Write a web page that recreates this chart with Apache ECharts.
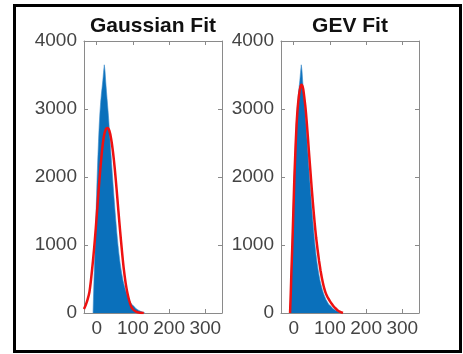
<!DOCTYPE html>
<html>
<head>
<meta charset="utf-8">
<script src="https://cdn.jsdelivr.net/npm/echarts@6.0.0/dist/echarts.min.js"></script>
<style>
  html, body { margin: 0; padding: 0; background: #fff; }
  #chart { width: 463px; height: 354px; }
</style>
</head>
<body>
<div id="chart"></div>
<script>
// histogram bin centres (width 2) and counts, same data in both panels
const binCenters = [-10, -8, -6, -4, -2, 0, 2, 4, 6, 8, 10, 12, 14, 16, 18, 20, 22, 24, 26, 28,
  30, 32, 34, 36, 38, 40, 42, 44, 46, 48, 50, 52, 54, 56, 58, 60, 62, 64, 66, 68,
  70, 72, 74, 76, 78, 80, 82, 84, 86, 88, 90, 92, 94, 96, 98, 100, 102, 104, 106, 108,
  110, 112, 114, 116, 118, 120, 122, 124, 126, 128, 130, 132, 134];
const binCounts = [0, 200, 560, 880, 1230, 1600, 1950, 2250, 2520, 2760, 2950, 3100, 3220, 3320, 3420, 3540, 3650, 3560, 3400, 3260,
  3130, 3000, 2860, 2700, 2540, 2380, 2220, 2060, 1910, 1760, 1620, 1480, 1350, 1220, 1100, 990, 890, 800, 720, 650,
  585, 525, 470, 425, 385, 345, 310, 280, 250, 225, 200, 180, 160, 142, 126, 112, 99, 87, 76, 66,
  57, 49, 42, 36, 30, 25, 20, 16, 12, 9, 6, 3, 0];

// gaussian fit curve
const gaussX = [-35, -30, -25, -20, -15, -10, -5, 0, 5, 10, 15, 20, 25, 30, 35, 40, 45, 50, 55, 60,
  65, 70, 75, 80, 85, 90, 95, 100, 110, 120, 130];
const gaussY = [60, 120, 200, 310, 520, 780, 1080, 1420, 1780, 2110, 2400, 2600, 2700, 2720, 2680, 2560, 2370, 2120, 1820, 1500,
  1190, 900, 640, 440, 290, 180, 100, 55, 15, 3, 0];

// GEV fit curve
const gevX = [-10, -9, -8, -6, -4, -2, 0, 2, 4, 6, 8, 10, 12, 14, 16, 18, 20, 22, 24, 26,
  28, 30, 32, 34, 36, 38, 40, 42, 44, 46, 48, 50, 52, 54, 56, 58, 60, 62, 64, 66,
  68, 70, 72, 74, 76, 78, 80, 84, 88, 92, 96, 100, 105, 110, 115, 120, 125, 130, 136];
const gevY = [0, 150, 300, 650, 950, 1300, 1650, 2000, 2280, 2540, 2770, 2940, 3070, 3170, 3250, 3310, 3345, 3355, 3340, 3300,
  3230, 3140, 3050, 2940, 2810, 2670, 2530, 2380, 2240, 2100, 1960, 1820, 1690, 1560, 1440, 1320, 1210, 1110, 1020, 930,
  850, 770, 700, 630, 570, 510, 460, 370, 300, 250, 210, 175, 135, 100, 70, 45, 25, 12, 0];

const titles = ["Gaussian Fit", "GEV Fit"];
const xTicks = [0, 100, 200, 300];

const chart = echarts.init(document.getElementById("chart"));

const gridBox = [
  { left: 84, top: 41, width: 138, height: 272 },
  { left: 281, top: 41, width: 138, height: 272 },
];

const tickColor = "#444";
const boxColor = "#8a8a8a";

const xAxes = [];
const yAxes = [];
gridBox.forEach((g, i) => {
  ["bottom", "top"].forEach((pos) => {
    xAxes.push({
      gridIndex: i,
      type: "value",
      position: pos,
      min: -35,
      max: 346,
      axisLine: { show: true, onZero: false, lineStyle: { color: boxColor, width: 1 } },
      axisTick: { show: true, inside: true, length: 4, customValues: xTicks, lineStyle: { color: boxColor } },
      axisLabel: {
        show: pos === "bottom",
        customValues: xTicks,
        formatter: (v) => String(v),
        fontSize: 19,
        fontFamily: "Liberation Sans",
        color: tickColor,
        margin: 6,
      },
      splitLine: { show: false },
    });
  });
  ["left", "right"].forEach((pos) => {
    yAxes.push({
      gridIndex: i,
      type: "value",
      position: pos,
      min: 0,
      max: 4000,
      interval: 1000,
      axisLine: { show: true, onZero: false, lineStyle: { color: boxColor, width: 1 } },
      axisTick: { show: true, inside: true, length: 4, lineStyle: { color: boxColor } },
      axisLabel: {
        show: pos === "left",
        formatter: (v) => String(v),
        fontSize: 19,
        fontFamily: "Liberation Sans",
        color: tickColor,
        margin: 7,
      },
      splitLine: { show: false },
    });
  });
});

const histData = binCenters.map((x, i) => [x, binCounts[i]]);
const fits = [
  gaussX.map((x, i) => [x, gaussY[i]]),
  gevX.map((x, i) => [x, gevY[i]]),
];

const series = [];
gridBox.forEach((g, i) => {
  series.push({
    type: "line",
    step: "middle",
    xAxisIndex: i * 2,
    yAxisIndex: i * 2,
    data: histData,
    symbol: "none",
    silent: true,
    lineStyle: { width: 0.6, color: "#3b8ccb" },
    areaStyle: { color: "#0a70bb", opacity: 1 },
    z: 2,
  });
  series.push({
    type: "line",
    xAxisIndex: i * 2,
    yAxisIndex: i * 2,
    data: fits[i],
    symbol: "none",
    smooth: i === 0 ? 0.3 : 0.2,
    silent: true,
    lineStyle: { width: 2.5, color: "#ee1111" },
    z: 3,
  });
});

const option = {
  animation: false,
  backgroundColor: "#fff",
  title: titles.map((t, i) => ({
    text: t,
    left: gridBox[i].left + gridBox[i].width / 2,
    top: 16,
    textAlign: "center",
    padding: 0,
    textStyle: {
      fontSize: 21,
      fontWeight: "bold",
      fontFamily: "Liberation Sans",
      color: "#111",
    },
  })),
  grid: gridBox,
  xAxis: xAxes,
  yAxis: yAxes,
  series: series,
  graphic: [
    {
      type: "rect",
      shape: { x: 14.5, y: 5.5, width: 446, height: 346 },
      style: { fill: "none", stroke: "#000", lineWidth: 3 },
      silent: true,
    },
  ],
};

chart.setOption(option);
</script>
</body>
</html>
